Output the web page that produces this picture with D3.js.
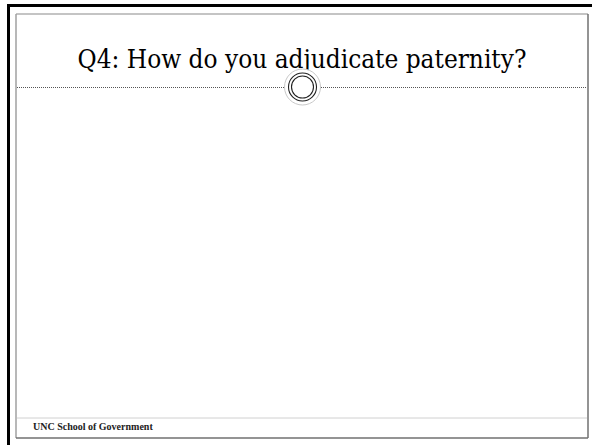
<!DOCTYPE html>
<html>
<head>
<meta charset="utf-8">
<script src="https://cdn.jsdelivr.net/npm/d3@7"></script>
<style>
body { margin: 0; background: #fff; }
svg { display: block; }
</style>
</head>
<body>
<div id="figure"></div>
<script>
var titleText = "Q4: How do you adjudicate paternity?";
var footerText = "UNC School of Government";
var ringRadii = [14, 11];

var w = 592, h = 445;
var box = {x0: 16, y0: 14, x1: 588, y1: 438};
var lineY = 87, footY = 418;

var svg = d3.select("#figure").append("svg")
	.attr("width", w)
	.attr("height", h);

// heavy black frame, left and top only
svg.append("rect").attr("x", 7).attr("y", 4).attr("width", 3).attr("height", h - 4).attr("fill", "#000");
svg.append("rect").attr("x", 7).attr("y", 4).attr("width", w - 7).attr("height", 3).attr("fill", "#000");

// inner slide box
svg.append("line").attr("x1", box.x0).attr("y1", box.y0).attr("x2", box.x1).attr("y2", box.y0)
	.attr("stroke", "#b0b0b0").attr("stroke-width", 1.5);
svg.append("line").attr("x1", box.x0).attr("y1", box.y0).attr("x2", box.x0).attr("y2", box.y1)
	.attr("stroke", "#a0a0a0").attr("stroke-width", 1.5);
svg.append("line").attr("x1", box.x1).attr("y1", box.y0).attr("x2", box.x1).attr("y2", box.y1)
	.attr("stroke", "#707070").attr("stroke-width", 1.5);
svg.append("line").attr("x1", box.x0).attr("y1", box.y1).attr("x2", box.x1).attr("y2", box.y1)
	.attr("stroke", "#707070").attr("stroke-width", 1.5);

// title, sized to span the reference width
var title = svg.append("text")
	.text(titleText)
	.attr("x", 302)
	.attr("y", 68)
	.attr("text-anchor", "middle")
	.attr("font-family", "DejaVu Serif Condensed, DejaVu Serif, serif")
	.attr("font-stretch", "condensed")
	.attr("font-size", "28px")
	.attr("fill", "#000");
var tw = title.node().getComputedTextLength();
title.attr("font-size", (28 * 449 / tw) + "px");

// dotted divider
svg.append("line").attr("x1", box.x0 + 1).attr("y1", lineY + 0.5).attr("x2", box.x1 - 1).attr("y2", lineY + 0.5)
	.attr("stroke", "#555").attr("stroke-width", 1).attr("stroke-dasharray", "1,1");

// ornament circle
var cx = 302.5;
svg.append("circle").attr("cx", cx).attr("cy", lineY).attr("r", 18)
	.attr("fill", "#fff").attr("stroke", "#c8c8c8").attr("stroke-width", 1);
svg.selectAll("circle.ring")
	.data(ringRadii)
	.enter()
	.append("circle")
	.attr("class", "ring")
	.attr("cx", cx)
	.attr("cy", lineY)
	.attr("r", function(d) { return d; })
	.attr("fill", "none")
	.attr("stroke", "#222")
	.attr("stroke-width", 1.1);

// footer
svg.append("line").attr("x1", box.x0 + 1).attr("y1", footY).attr("x2", box.x1 - 1).attr("y2", footY)
	.attr("stroke", "#d0d0d0").attr("stroke-width", 1);
svg.append("text")
	.text(footerText)
	.attr("x", 33)
	.attr("y", 430)
	.attr("font-family", "Liberation Serif, serif")
	.attr("font-weight", "bold")
	.attr("font-size", "10px")
	.attr("fill", "#222");
</script>
</body>
</html>
